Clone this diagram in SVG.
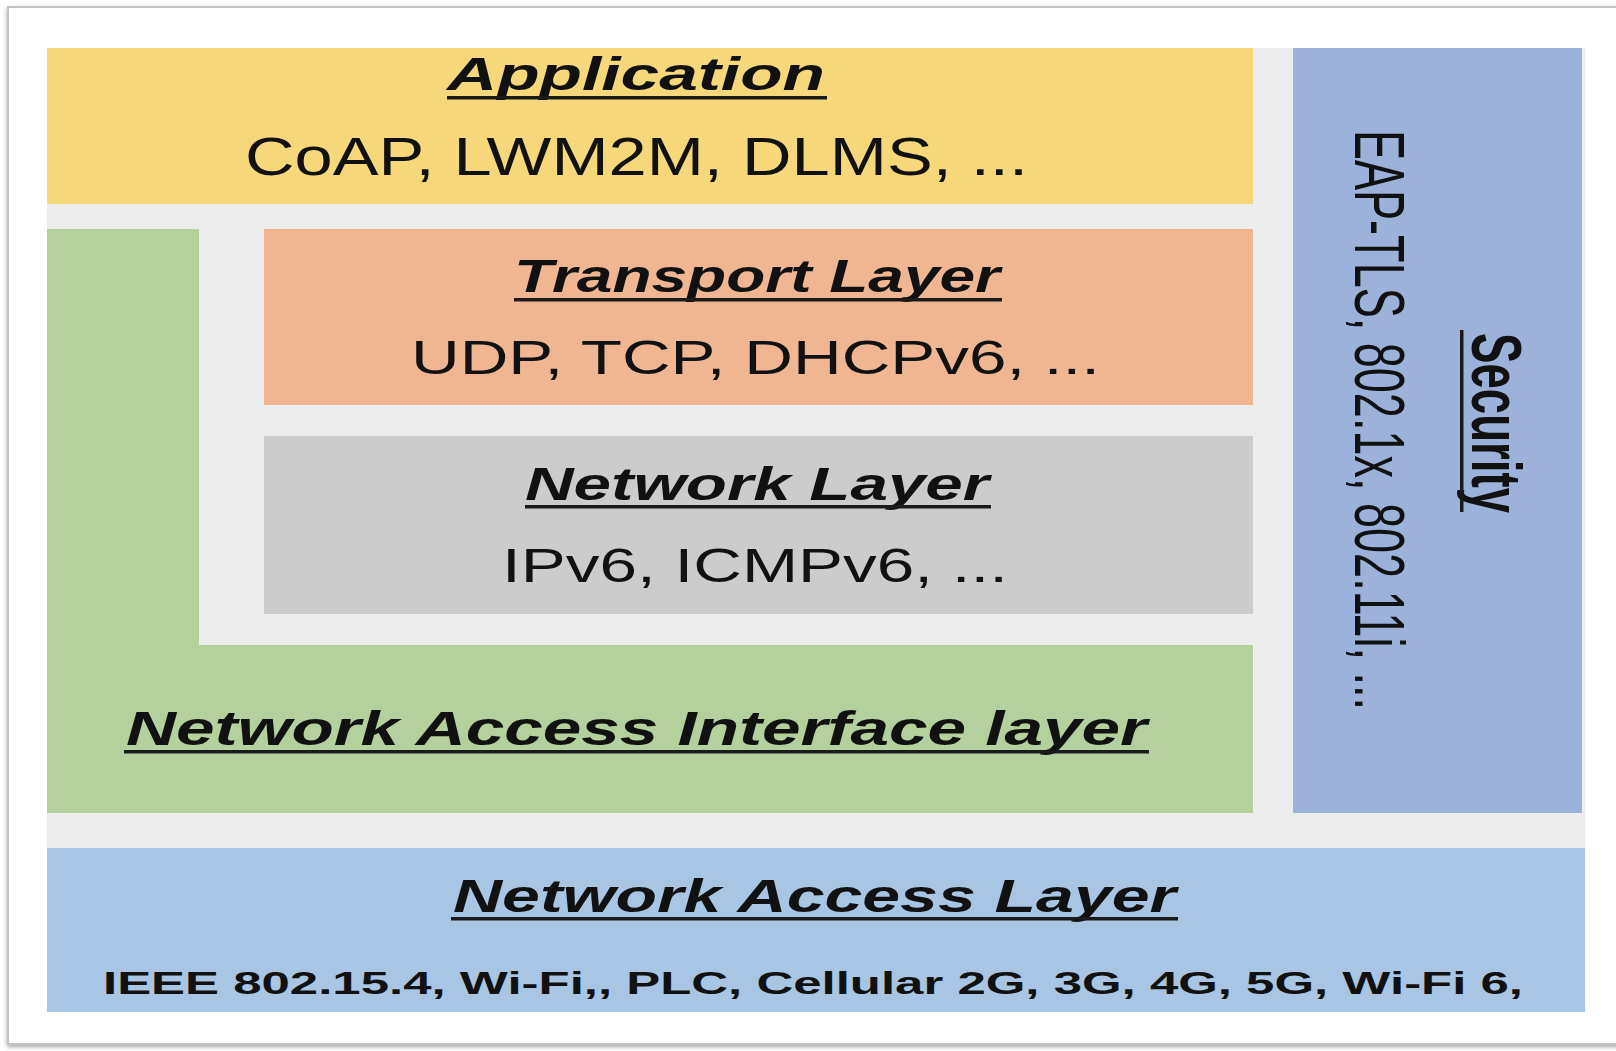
<svg xmlns="http://www.w3.org/2000/svg" width="1616" height="1051" viewBox="0 0 1616 1051">
  <defs>
    <style>
      .title { font-family: "Liberation Sans", Arial, sans-serif; font-weight: bold; font-style: italic; fill: #111; }
      .body { font-family: "Liberation Sans", Arial, sans-serif; font-weight: normal; fill: #111; }
      .bodyb { font-family: "Liberation Sans", Arial, sans-serif; font-weight: bold; fill: #111; }
      .ul { fill: #1a1a1a; }
      .vert { font-family: "Liberation Sans", Arial, sans-serif; fill: #111; }
    </style>
    <filter id="shadow" x="-5%" y="-5%" width="110%" height="110%">
      <feGaussianBlur in="SourceAlpha" stdDeviation="2"/>
      <feOffset dx="0" dy="2"/>
      <feComponentTransfer><feFuncA type="linear" slope="0.35"/></feComponentTransfer>
      <feMerge><feMergeNode/><feMergeNode in="SourceGraphic"/></feMerge>
    </filter>
  </defs>

  <rect x="0" y="0" width="1616" height="1051" fill="#ffffff"/>
  <!-- outer frame -->
  <rect x="8" y="7" width="1660" height="1037" fill="#ffffff" stroke="#c4c4c4" stroke-width="2" filter="url(#shadow)"/>

  <!-- light gray background -->
  <rect id="background" x="47" y="48" width="1538" height="800" fill="#EDEDED"/>

  <g id="application">
    <rect x="47" y="48" width="1206" height="156" fill="#F6D87A"/>
    <text class="title" x="447" y="90" style="font-size:46px" textLength="378" lengthAdjust="spacingAndGlyphs">Application</text>
    <rect class="ul" x="447" y="96" width="380" height="3.5"/>
    <text class="body" x="245" y="175" style="font-size:53px" textLength="783" lengthAdjust="spacingAndGlyphs">CoAP, LWM2M, DLMS, ...</text>
  </g>

  <g id="network-access-interface">
    <path d="M47 229 H199 V645 H1253 V813 H47 Z" fill="#B3D09D"/>
    <text class="title" x="126" y="745" style="font-size:49px" textLength="1021" lengthAdjust="spacingAndGlyphs">Network Access Interface layer</text>
    <rect class="ul" x="124" y="750" width="1025" height="3.5"/>
  </g>

  <g id="transport">
    <rect x="264" y="229" width="989" height="176" fill="#F0B692"/>
    <text class="title" x="514" y="292" style="font-size:47px" textLength="486" lengthAdjust="spacingAndGlyphs">Transport Layer</text>
    <rect class="ul" x="514" y="298" width="488" height="3.5"/>
    <text class="body" x="411" y="374" style="font-size:49px" textLength="689" lengthAdjust="spacingAndGlyphs">UDP, TCP, DHCPv6, ...</text>
  </g>

  <g id="network">
    <rect x="264" y="436" width="989" height="178" fill="#CCCCCC"/>
    <text class="title" x="525" y="500" style="font-size:46px" textLength="464" lengthAdjust="spacingAndGlyphs">Network Layer</text>
    <rect class="ul" x="525" y="505" width="466" height="3.5"/>
    <text class="body" x="502" y="582" style="font-size:48px" textLength="506" lengthAdjust="spacingAndGlyphs">IPv6, ICMPv6, ...</text>
  </g>

  <g id="security">
    <rect x="1293" y="48" width="289" height="765" fill="#9DB2DB"/>
    <text class="vert" x="1355" y="130" style="font-size:70px" transform="rotate(90 1355 130)" textLength="580" lengthAdjust="spacingAndGlyphs">EAP-TLS, 802.1x, 802.11i, ...</text>
    <text class="vert" x="1472" y="333" style="font-size:70px;font-weight:bold" transform="rotate(90 1472 333)" textLength="180" lengthAdjust="spacingAndGlyphs">Security</text>
    <rect class="ul" x="1460" y="330" width="3.5" height="182"/>
  </g>

  <g id="network-access">
    <rect x="47" y="848" width="1538" height="164" fill="#A8C6E3"/>
    <text class="title" x="453" y="912" style="font-size:47px" textLength="723" lengthAdjust="spacingAndGlyphs">Network Access Layer</text>
    <rect class="ul" x="451" y="917" width="727" height="3.5"/>
    <text class="bodyb" x="103" y="994" style="font-size:32px" textLength="1420" lengthAdjust="spacingAndGlyphs">IEEE 802.15.4, Wi-Fi,, PLC, Cellular 2G, 3G, 4G, 5G, Wi-Fi 6,</text>
  </g>

  <g id="connectors"/>
</svg>
